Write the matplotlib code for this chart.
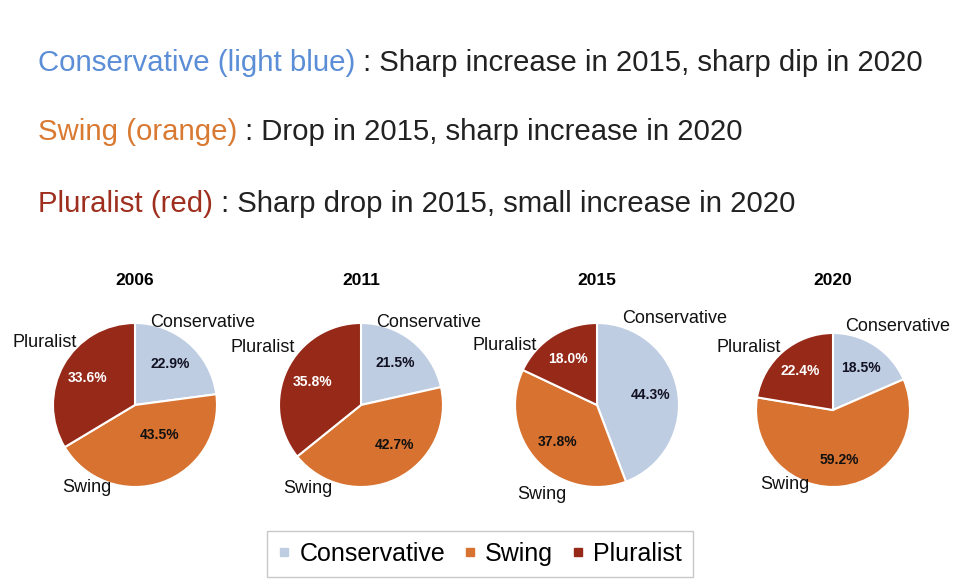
import matplotlib
matplotlib.use('Agg')

import matplotlib.pyplot as plt
from matplotlib.lines import Line2D

plt.rcParams['font.family'] = ['Liberation Sans', 'DejaVu Sans']

# data
years = ['2006', '2011', '2015', '2020']
categories = ['Conservative', 'Swing', 'Pluralist']
shares = {
    '2006': [22.9, 43.5, 33.6],
    '2011': [21.5, 42.7, 35.8],
    '2015': [44.3, 37.8, 18.0],
    '2020': [18.5, 59.2, 22.4],
}
notes = [
    ('Conservative (light blue)', ' : Sharp increase in 2015, sharp dip in 2020'),
    ('Swing (orange)', ' : Drop in 2015, sharp increase in 2020'),
    ('Pluralist (red)', ' : Sharp drop in 2015, small increase in 2020'),
]

# styling
colors = ['#BFCDE3', '#D87230', '#962917']
note_colors = ['#5B8ED6', '#D97A33', '#9E2F1E']
pct_colors = ['#111122', '#111111', 'white']
W, H = 960, 588

# layout in pixels: pie centres and radii
centers = [(135, 405), (361, 405), (597, 405), (833, 410)]
radii_px = [82, 82, 82, 77]
# category label offsets, in units of the pie radius
label_offsets = [
    [(0.82, 1.01), (-0.59, -1.01), (-1.10, 0.76)],
    [(0.82, 1.01), (-0.65, -1.02), (-1.20, 0.70)],
    [(0.95, 1.05), (-0.67, -1.09), (-1.12, 0.72)],
    [(0.84, 1.09), (-0.62, -0.97), (-1.10, 0.81)],
]
# a few percent labels sit off the default spot (pie, slice) -> offset
pct_override = {(0, 1): (0.30, -0.37), (1, 1): (0.41, -0.49)}


def make_pct(vals):
    total = sum(vals)
    return lambda p: f'{p * total / 100:.1f}%'


fig = plt.figure(figsize=(W / 100, H / 100), dpi=100)
renderer = fig.canvas.get_renderer()

# top notes, coloured part then dark part
baselines = [71, 140, 212]
for (head, tail), col, yb in zip(notes, note_colors, baselines):
    t = fig.text(38 / W, 1 - yb / H, head, color=col, fontsize=21.15,
                 ha='left', va='baseline')
    bb = t.get_window_extent(renderer=renderer)
    fig.text(bb.x1 / W, 1 - yb / H, tail, color='#222222', fontsize=21.15,
             ha='left', va='baseline')

box = 240  # axes size in px
unit = box / 3.0  # px per data unit (limits -1.5..1.5)
for i, year in enumerate(years):
    cx, cy = centers[i]
    ax = fig.add_axes([(cx - box / 2) / W, (H - cy - box / 2) / H, box / W, box / H])
    r = radii_px[i] / unit
    wedges, _, autotexts = ax.pie(
        shares[year], colors=colors, startangle=90, counterclock=False,
        radius=r, autopct=make_pct(shares[year]), pctdistance=0.66,
        wedgeprops=dict(edgecolor='white', linewidth=1.5),
        textprops=dict(fontsize=10, fontweight='bold'))
    for j, (at, c) in enumerate(zip(autotexts, pct_colors)):
        at.set_color(c)
        if (i, j) in pct_override:
            dx, dy = pct_override[(i, j)]
            at.set_position((dx * r, dy * r))
    for cat, (dx, dy) in zip(categories, label_offsets[i]):
        ax.text(dx * r, dy * r, cat, fontsize=13, ha='center', va='center',
                color='#111111')
    ax.set_xlim(-1.5, 1.5)
    ax.set_ylim(-1.5, 1.5)
    ax.set_aspect('equal')
    ax.axis('off')
    fig.text(cx / W, 1 - 281 / H, year, fontsize=12.5, fontweight='bold',
             ha='center', va='center')

handles = [Line2D([], [], marker='s', linestyle='none', markersize=6,
                  markerfacecolor=c, markeredgecolor=c) for c in colors]
leg = fig.legend(handles, categories, loc='center', ncol=3,
                 bbox_to_anchor=(480 / W, 1 - 554 / H), fontsize=18,
                 frameon=True, fancybox=False, handlelength=0.5,
                 handletextpad=0.35, columnspacing=0.75, borderpad=0.45)
leg.get_frame().set_edgecolor('#BBBBBB')
leg.get_frame().set_linewidth(1.0)

fig.savefig('out.png', dpi=100)
